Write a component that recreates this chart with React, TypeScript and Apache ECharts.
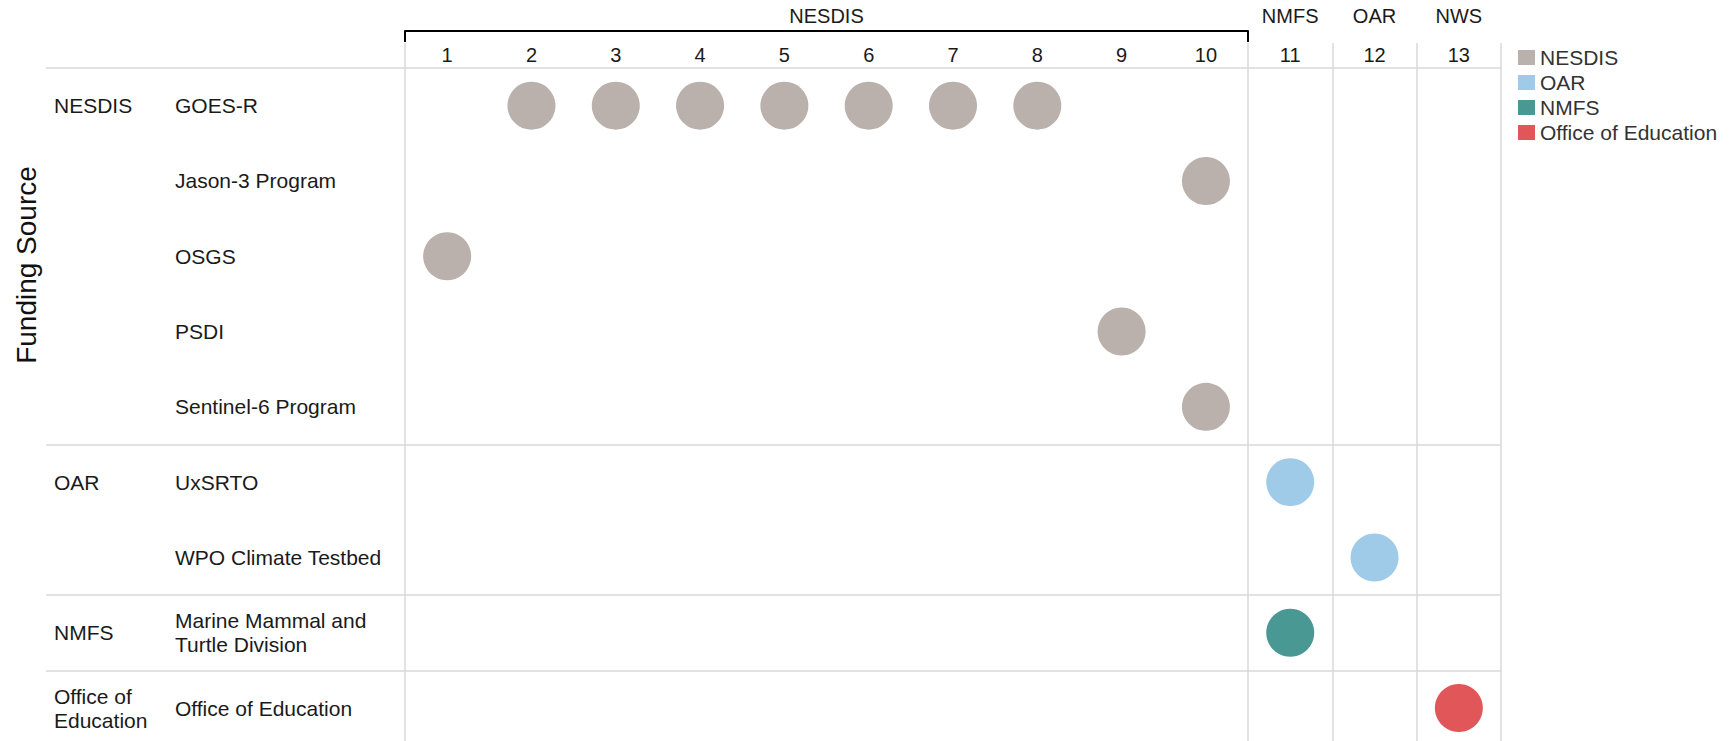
import React, { useEffect, useRef } from "react";
import * as echarts from "echarts";

// ---- data ----
const columns = ["1", "2", "3", "4", "5", "6", "7", "8", "9", "10", "11", "12", "13"];
const programs = [
  "GOES-R",
  "Jason-3 Program",
  "OSGS",
  "PSDI",
  "Sentinel-6 Program",
  "UxSRTO",
  "WPO Climate Testbed",
  "Marine Mammal and\nTurtle Division",
  "Office of Education",
];
const programGroups = ["NESDIS", "", "", "", "", "OAR", "", "NMFS", "Office of\nEducation"];
const groupStartRows = [0, 5, 7, 8];
const panelStartCols = [0, 10, 11, 12];
const headerNesdis = ["NESDIS"];
const headerOthers = ["NMFS", "OAR", "NWS"];

const seriesNames = ["NESDIS", "OAR", "NMFS", "Office of Education"];
const seriesColors = ["#BAB0AC", "#A0CBE8", "#499894", "#E15759"];

const nesdisCells: [string, string][] = [
  ["2", "GOES-R"], ["3", "GOES-R"], ["4", "GOES-R"], ["5", "GOES-R"],
  ["6", "GOES-R"], ["7", "GOES-R"], ["8", "GOES-R"],
  ["10", "Jason-3 Program"],
  ["1", "OSGS"],
  ["9", "PSDI"],
  ["10", "Sentinel-6 Program"],
];
const oarCells: [string, string][] = [
  ["11", "UxSRTO"],
  ["12", "WPO Climate Testbed"],
];
const nmfsCells: [string, string][] = [["11", "Marine Mammal and\nTurtle Division"]];
const educationCells: [string, string][] = [["13", "Office of Education"]];
const seriesCells = [nesdisCells, oarCells, nmfsCells, educationCells];

export default function App() {
  const ref = useRef<HTMLDivElement>(null);
  useEffect(() => {
    document.body.style.margin = "0";
    document.body.style.overflow = "hidden";
    if (!ref.current) return;
    const chart = echarts.init(ref.current, null, { renderer: "svg" });
    const FONT = "Liberation Sans";
    const TXT = "#1a1a1a";
    const GRID = "#d9d9d9";
    const ROW_H = 75.3;
    const TOP = 68;
    const lineStyle = { color: GRID, width: 1.5 };
    const isGroupStart = (i: number) => groupStartRows.indexOf(i) >= 0;
    const isPanelStart = (i: number) => panelStartCols.indexOf(i) >= 0;
    const gridBase = { outerBoundsMode: "none", containLabel: false };

    chart.setOption({
      animation: false,
      textStyle: { fontFamily: FONT },
      grid: [
        { ...gridBase, left: 46, top: TOP, width: 359, height: ROW_H * programs.length },
        { ...gridBase, left: 405, top: TOP, width: 1096, height: ROW_H * programs.length },
        { ...gridBase, left: 405, top: 31, width: 843, height: 20 },
        { ...gridBase, left: 1248, top: 31, width: 253, height: 20 },
      ],
      xAxis: [
        { gridIndex: 0, type: "value", show: false },
        {
          gridIndex: 1,
          type: "category",
          position: "top",
          data: columns,
          axisLine: { show: false },
          axisTick: { show: true, interval: isPanelStart, length: 25, lineStyle },
          axisLabel: { interval: 0, margin: 3, fontSize: 20, color: TXT, fontFamily: FONT },
          splitLine: { show: true, interval: isPanelStart, lineStyle },
        },
        {
          gridIndex: 2,
          type: "category",
          position: "top",
          data: headerNesdis,
          axisLine: { show: true, onZero: false, lineStyle: { color: "#000", width: 2 } },
          axisTick: { show: true, inside: true, length: 11, lineStyle: { color: "#000", width: 2 } },
          axisLabel: { margin: 5, fontSize: 20, color: TXT, fontFamily: FONT },
          splitLine: { show: false },
        },
        {
          gridIndex: 3,
          type: "category",
          position: "top",
          data: headerOthers,
          axisLine: { show: false, onZero: false },
          axisTick: { show: false },
          axisLabel: { interval: 0, margin: 5, fontSize: 20, color: TXT, fontFamily: FONT },
          splitLine: { show: false },
        },
      ],
      yAxis: [
        {
          gridIndex: 0,
          type: "category",
          position: "left",
          data: programs,
          inverse: true,
          axisLine: { show: false },
          axisTick: { show: false },
          axisLabel: {
            inside: true,
            margin: 129,
            align: "left",
            interval: 0,
            fontSize: 21,
            lineHeight: 24,
            color: TXT,
            fontFamily: FONT,
          },
          splitLine: { show: true, interval: isGroupStart, lineStyle },
        },
        {
          gridIndex: 0,
          type: "category",
          position: "left",
          offset: 0,
          data: programs,
          inverse: true,
          axisLine: { show: false },
          axisTick: { show: false },
          axisLabel: {
            inside: true,
            margin: 8,
            align: "left",
            interval: 0,
            fontSize: 21,
            lineHeight: 24,
            color: TXT,
            fontFamily: FONT,
            formatter: (_v: string, i: number) => programGroups[i],
          },
          splitLine: { show: false },
        },
        {
          gridIndex: 1,
          type: "category",
          data: programs,
          inverse: true,
          axisLine: { show: false },
          axisTick: { show: false },
          axisLabel: { show: false },
          splitLine: { show: true, interval: isGroupStart, lineStyle },
        },
        { gridIndex: 2, type: "value", show: false },
        { gridIndex: 3, type: "value", show: false },
      ],
      legend: {
        orient: "vertical",
        left: 1518,
        top: 47,
        padding: 0,
        itemGap: 4,
        itemWidth: 17,
        itemHeight: 15,
        icon: "rect",
        data: seriesNames,
        textStyle: { fontSize: 21, color: "#333", fontFamily: FONT },
      },
      graphic: [
        {
          type: "text",
          x: 26,
          y: 265,
          rotation: Math.PI / 2,
          style: {
            text: "Funding Source",
            font: `28px ${FONT}`,
            fill: "#111",
            textAlign: "center",
            textVerticalAlign: "middle",
          },
        },
      ],
      series: seriesNames.map((name, k) => ({
        name,
        type: "scatter",
        xAxisIndex: 1,
        yAxisIndex: 2,
        symbol: "circle",
        symbolSize: 48,
        itemStyle: { color: seriesColors[k], opacity: 1 },
        data: seriesCells[k],
      })),
    });
    return () => chart.dispose();
  }, []);
  return <div ref={ref} style={{ width: 1735, height: 741 }} />;
}
